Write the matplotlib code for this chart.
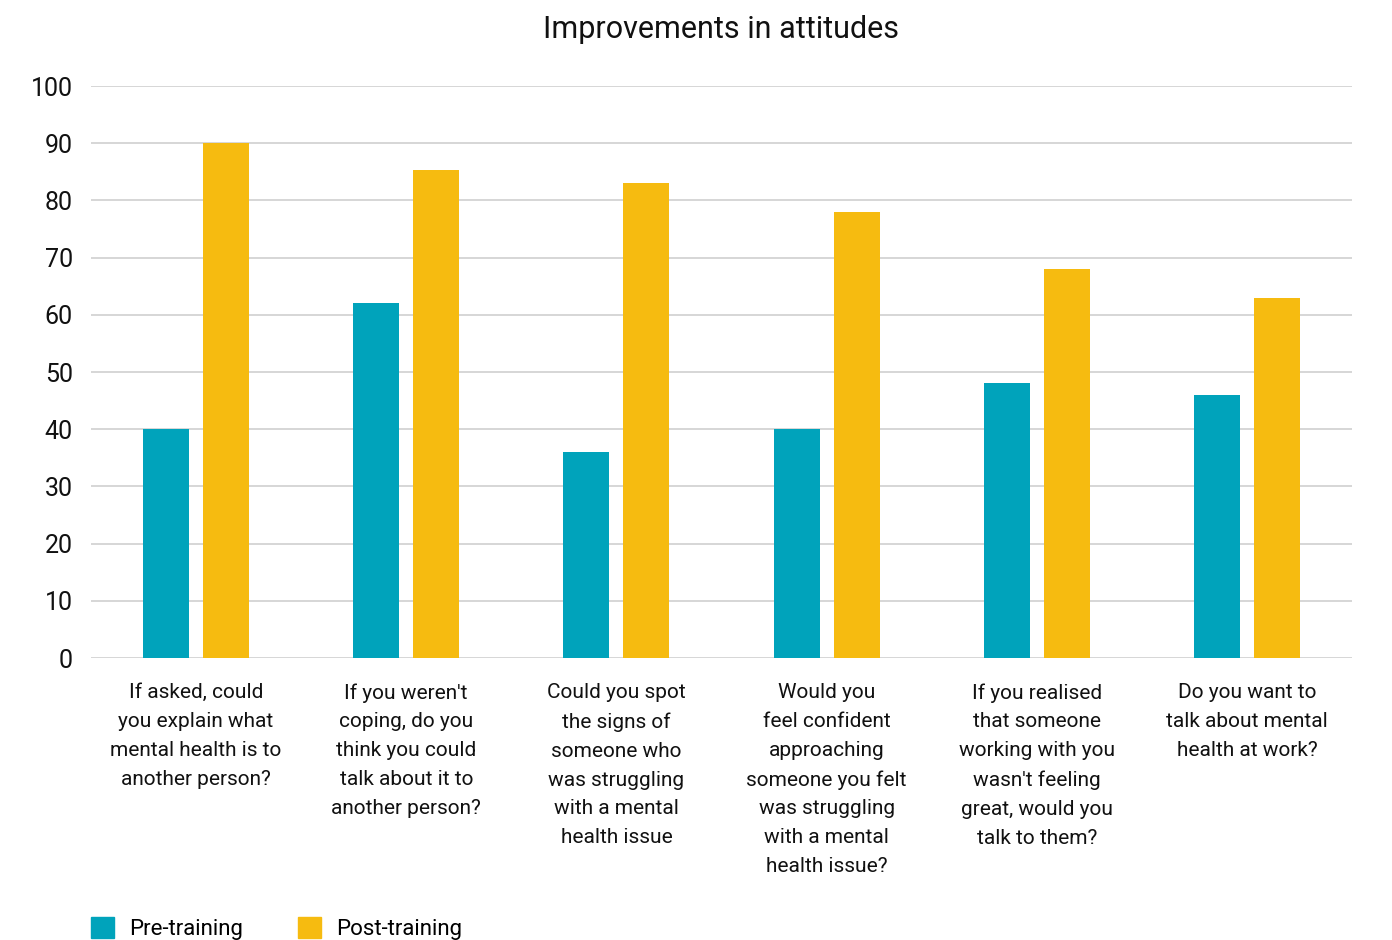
#!/usr/bin/env python3
# Improvements in attitudes - pre vs post training, grouped bars
import numpy as np
import matplotlib.pyplot as plt
from matplotlib.patches import Patch

plt.rcParams["font.family"] = ["Roboto", "DejaVu Sans"]

questions = [
    "If asked, could\nyou explain what\nmental health is to\nanother person?",
    "If you weren't\ncoping, do you\nthink you could\ntalk about it to\nanother person?",
    "Could you spot\nthe signs of\nsomeone who\nwas struggling\nwith a mental\nhealth issue",
    "Would you\nfeel confident\napproaching\nsomeone you felt\nwas struggling\nwith a mental\nhealth issue?",
    "If you realised\nthat someone\nworking with you\nwasn't feeling\ngreat, would you\ntalk to them?",
    "Do you want to\ntalk about mental\nhealth at work?",
]
pre_training = [40, 62, 36, 40, 48, 46]
post_training = [90, 85.3, 83, 78, 68, 63]
yticks = [0, 10, 20, 30, 40, 50, 60, 70, 80, 90, 100]

c_pre = "#00A3BB"
c_post = "#F6BB10"

fig = plt.figure(figsize=(13.92, 9.40), dpi=100)
ax = fig.add_axes([91 / 1392, 1 - 658 / 940, (1352 - 91) / 1392, (658 - 86) / 940])

x = np.arange(len(questions))
w = 0.219
off = 0.143
ax.bar(x - off, pre_training, width=w, color=c_pre, zorder=3)
ax.bar(x + off, post_training, width=w, color=c_post, zorder=3)

ax.set_xlim(-0.5, len(questions) - 0.5)
ax.set_ylim(0, 100)
ax.set_yticks(yticks)
ax.yaxis.grid(True, color="#d3d3d3", linewidth=1.3, zorder=0)
ax.set_axisbelow(True)
for s in ax.spines.values():
    s.set_visible(False)
ax.tick_params(axis="y", length=0, labelsize=18, pad=13, colors="#111111")
ax.set_xticks(x)
ax.set_xticklabels(questions, fontsize=15, linespacing=1.66, color="#111111", va="top")
ax.tick_params(axis="x", length=0, pad=18)

fig.text((91 + 1352) / 2 / 1392, 1 - 29 / 940, "Improvements in attitudes",
         ha="center", va="center", fontsize=22, color="#111111")

handles = [Patch(color=c_pre, label="Pre-training"), Patch(color=c_post, label="Post-training")]
fig.legend(handles=handles, loc="lower left", bbox_to_anchor=(91 / 1392, 0.0),
           ncol=2, frameon=False, fontsize=16, handlelength=1.04, handleheight=1.04,
           handletextpad=0.68, columnspacing=2.45, borderpad=0, borderaxespad=0)

fig.savefig("out.png", dpi=100)
